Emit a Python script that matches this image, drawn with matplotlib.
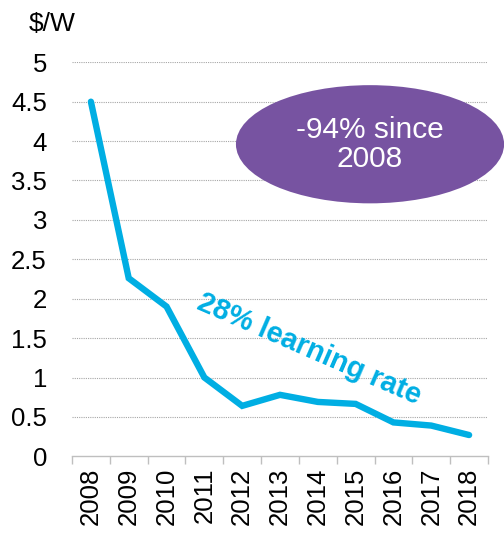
import matplotlib
matplotlib.use("Agg")
import matplotlib.pyplot as plt
from matplotlib.patches import Ellipse
import numpy as np

plt.rcParams["font.family"] = ["Liberation Sans", "DejaVu Sans"]

years = ["2008", "2009", "2010", "2011", "2012", "2013", "2014", "2015", "2016", "2017", "2018"]
price = [4.5, 2.26, 1.9, 1.0, 0.64, 0.78, 0.69, 0.665, 0.43, 0.39, 0.27]
yticks = [0, 0.5, 1, 1.5, 2, 2.5, 3, 3.5, 4, 4.5, 5]
ytick_labels = ["0", "0.5", "1", "1.5", "2", "2.5", "3", "3.5", "4", "4.5", "5"]

LINE = "#00AEE3"
PURPLE = "#7753A1"

fig = plt.figure(figsize=(5.04, 5.35), dpi=100)
ax = fig.add_axes([72/504, 1 - 456.3/535, (488-72)/504, (456.3-62.3)/535])

x = np.arange(len(years))
ax.plot(x, price, color=LINE, lw=4.6, solid_capstyle="round", solid_joinstyle="miter", zorder=3)

ax.set_xlim(-0.5, len(years) - 0.5)
ax.set_ylim(0, 5)
ax.set_yticks(yticks)
ax.set_yticklabels(ytick_labels, fontsize=18.5)
ax.set_xticks(x)
ax.set_xticklabels(years, rotation=90, fontsize=18.5)
ax.set_xticks(np.arange(-0.5, len(years)), minor=True)
ax.tick_params(axis="x", which="major", length=0, pad=8)
ax.tick_params(axis="x", which="minor", length=6, color="#BFBFBF", width=1)
ax.tick_params(axis="y", length=0, pad=18)

for s in ["top", "right", "left"]:
    ax.spines[s].set_visible(False)
ax.spines["bottom"].set_color("#BFBFBF")
ax.spines["bottom"].set_linewidth(1)

for v in yticks[1:]:
    ax.axhline(v, color="#A6A6A6", lw=0.8, ls=(0, (1, 1)), zorder=1)

ell = Ellipse((7.38, 3.96), 7.09, 1.5, facecolor=PURPLE, edgecolor="none", clip_on=False, zorder=4)
ax.add_patch(ell)
ax.text(7.38, 3.96, "-94% since\n2008", ha="center", va="center", color="white",
        fontsize=21.5, linespacing=1.05, zorder=5)

ax.text(5.77, 1.36, "28% learning rate", ha="center", va="center", color=LINE,
        fontsize=21, fontweight="bold", rotation=-23.5, rotation_mode="anchor", zorder=5)

fig.text(52/504, 1 - 24/535, "$/W", ha="center", va="center", fontsize=19)

fig.savefig("out.png", dpi=100)
